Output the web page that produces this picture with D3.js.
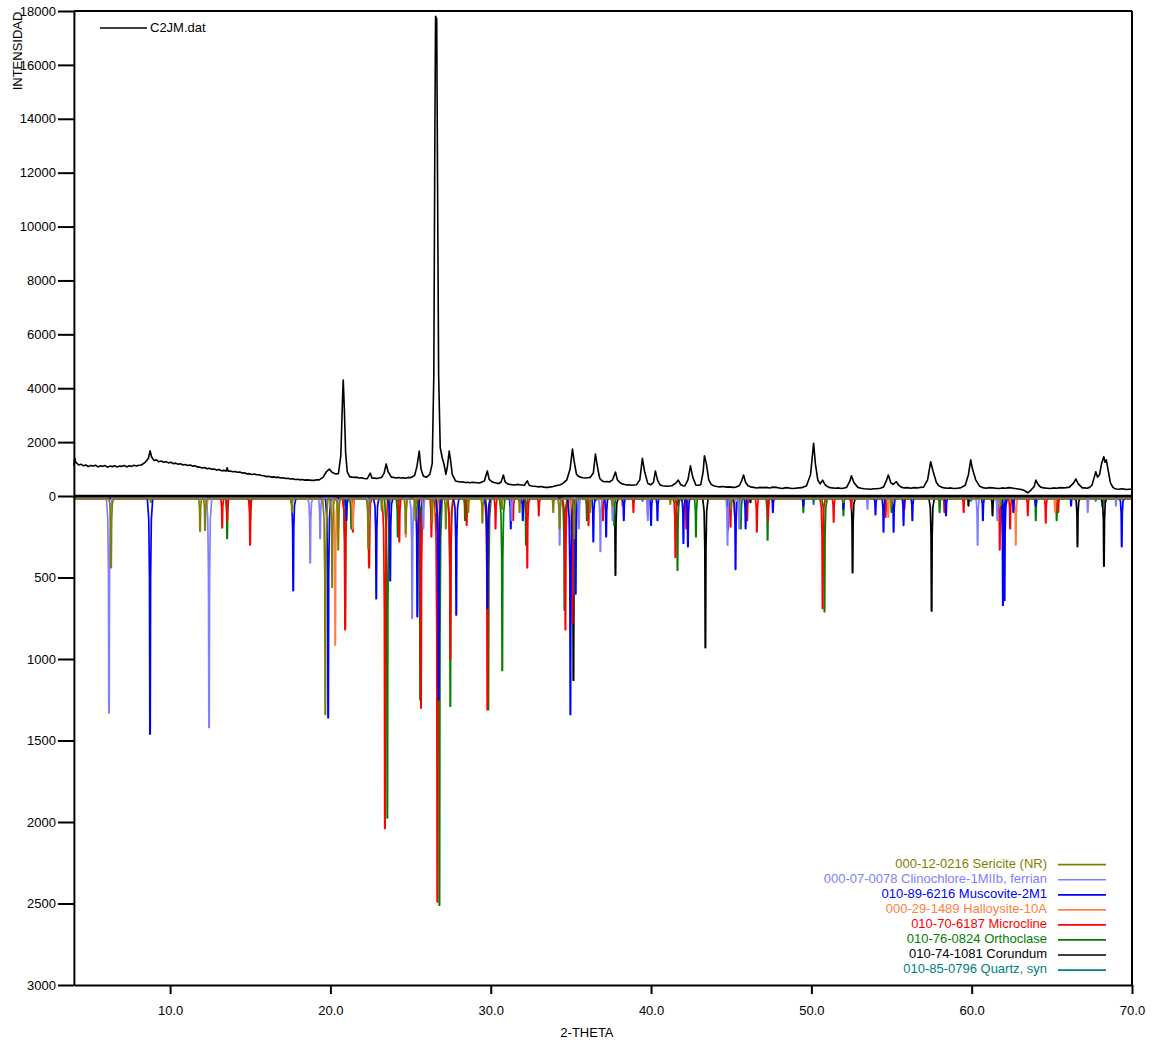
<!DOCTYPE html>
<html>
<head>
<meta charset="utf-8">
<script src="https://cdn.jsdelivr.net/npm/d3@7"></script>
<style>
  html, body { margin: 0; padding: 0; background: #fff; }
  svg { display: block; font-family: "Liberation Sans", Arial, sans-serif; }
</style>
</head>
<body>
<svg id="chart" width="1160" height="1045"></svg>
<script>
// ---------------- DATA ----------------
const xTickValues = [10, 20, 30, 40, 50, 60, 70];
const upperTickValues = [0, 2000, 4000, 6000, 8000, 10000, 12000, 14000, 16000, 18000];
const lowerTickValues = [500, 1000, 1500, 2000, 2500, 3000];

const observedName = "C2JM.dat";
// measured pattern [2-theta, intensity]
const observed = [
[4.0,1110],[4.05,1400],[4.12,1250],[4.3,1150],[4.45,1180],[4.6,1120],[4.75,1150],[4.9,1090],[5.05,1130],[5.2,1110],[5.35,1140],[5.5,1080],[5.65,1120],[5.8,1100],[5.95,1130],[6.1,1070],[6.25,1110],[6.4,1090],[6.55,1120],[6.7,1080],[6.85,1110],[7.0,1100],[7.15,1130],[7.3,1080],[7.45,1120],[7.6,1100],[7.75,1140],[7.9,1110],[8.05,1140],[8.2,1150],[8.45,1250],[8.65,1400],[8.75,1680],[8.85,1450],[9.0,1320],[9.15,1340],[9.3,1270],[9.45,1300],[9.6,1250],[9.75,1270],[9.9,1230],[10.05,1250],[10.2,1200],[10.35,1220],[10.5,1180],[10.65,1200],[10.8,1150],[10.95,1170],[11.1,1130],[11.25,1150],[11.4,1110],[11.55,1120],[11.7,1080],[11.85,1070],[12.0,1040],[12.15,1060],[12.3,1010],[12.45,1030],[12.6,990],[12.75,1000],[12.9,960],[13.05,980],[13.2,940],[13.35,950],[13.5,930],[13.56,1050],[13.62,920],[13.75,930],[13.9,900],[14.05,910],[14.2,880],[14.35,890],[14.5,850],[14.65,860],[14.8,820],[14.95,830],[15.1,800],[15.25,820],[15.4,790],[15.55,790],[15.7,760],[15.85,750],[16.0,720],[16.15,730],[16.3,700],[16.45,710],[16.6,690],[16.75,700],[16.9,670],[17.05,680],[17.2,650],[17.35,660],[17.5,630],[17.65,640],[17.8,610],[17.95,620],[18.1,600],[18.25,610],[18.4,590],[18.55,600],[18.7,590],[18.85,580],[19.0,580],[19.15,600],[19.3,600],[19.55,700],[19.75,900],[19.93,1000],[20.1,880],[20.3,820],[20.5,830],[20.65,1500],[20.75,3500],[20.8,4300],[20.87,3200],[20.95,1600],[21.05,900],[21.2,720],[21.35,700],[21.5,690],[21.65,700],[21.8,670],[21.95,680],[22.1,650],[22.3,640],[22.48,850],[22.6,660],[22.75,670],[22.9,650],[23.05,670],[23.2,700],[23.35,850],[23.48,1190],[23.6,900],[23.8,700],[23.95,690],[24.1,670],[24.25,690],[24.4,670],[24.55,680],[24.7,660],[24.85,690],[25.0,680],[25.25,760],[25.4,1100],[25.54,1670],[25.65,1000],[25.8,730],[26.0,700],[26.2,800],[26.35,1200],[26.45,4500],[26.52,14000],[26.56,17800],[26.63,17700],[26.68,12000],[26.75,4500],[26.85,1800],[26.98,1400],[27.1,1150],[27.2,800],[27.3,1100],[27.41,1670],[27.5,1300],[27.6,800],[27.8,560],[27.95,540],[28.1,520],[28.25,530],[28.4,500],[28.55,510],[28.7,490],[28.85,510],[29.0,500],[29.15,490],[29.3,480],[29.6,560],[29.79,930],[29.9,620],[30.05,540],[30.2,500],[30.35,480],[30.5,460],[30.65,520],[30.79,780],[30.9,520],[31.05,450],[31.2,430],[31.35,420],[31.5,410],[31.65,430],[31.8,420],[31.95,410],[32.1,400],[32.28,560],[32.4,400],[32.55,370],[32.7,360],[32.85,350],[33.0,340],[33.15,350],[33.3,330],[33.45,320],[33.6,320],[33.75,340],[33.9,350],[34.05,380],[34.2,400],[34.35,420],[34.5,470],[34.75,600],[34.95,1000],[35.1,1740],[35.2,1300],[35.35,800],[35.5,720],[35.6,700],[35.75,680],[35.9,670],[36.05,680],[36.2,690],[36.4,850],[36.53,1560],[36.65,1100],[36.8,650],[36.95,560],[37.1,530],[37.25,540],[37.4,520],[37.6,600],[37.78,890],[37.9,600],[38.05,500],[38.2,450],[38.35,430],[38.5,410],[38.65,420],[38.8,400],[38.95,410],[39.1,420],[39.3,600],[39.46,1400],[39.6,900],[39.8,460],[40.0,420],[40.15,500],[40.27,930],[40.4,600],[40.55,420],[40.7,380],[40.85,370],[41.0,360],[41.15,370],[41.3,380],[41.55,480],[41.7,590],[41.85,420],[42.0,380],[42.1,370],[42.3,600],[42.46,1120],[42.6,700],[42.8,400],[42.95,400],[43.1,420],[43.25,900],[43.33,1490],[43.45,1200],[43.6,600],[43.75,430],[43.9,380],[44.1,350],[44.3,340],[44.5,350],[44.7,330],[44.9,340],[45.1,320],[45.3,330],[45.5,380],[45.65,560],[45.77,780],[45.9,500],[46.05,380],[46.2,340],[46.4,320],[46.6,300],[46.8,320],[47.0,310],[47.2,320],[47.4,300],[47.6,330],[47.8,320],[48.0,300],[48.2,280],[48.4,310],[48.6,300],[48.8,280],[49.0,290],[49.2,300],[49.4,310],[49.7,380],[49.95,800],[50.05,1400],[50.14,1960],[50.25,1200],[50.4,600],[50.55,450],[50.7,590],[50.85,420],[51.0,350],[51.1,320],[51.3,300],[51.5,290],[51.7,300],[51.9,280],[52.05,300],[52.2,320],[52.4,550],[52.5,750],[52.65,500],[52.9,320],[53.1,290],[53.3,270],[53.5,260],[53.7,250],[53.9,270],[54.1,270],[54.3,290],[54.5,330],[54.7,600],[54.8,780],[54.95,500],[55.1,430],[55.3,530],[55.45,400],[55.6,330],[55.8,300],[56.0,310],[56.2,290],[56.4,310],[56.6,300],[56.8,320],[57.0,330],[57.25,600],[57.44,1270],[57.6,900],[57.8,500],[57.95,380],[58.1,330],[58.3,300],[58.5,290],[58.7,300],[58.9,280],[59.1,290],[59.3,300],[59.6,400],[59.8,800],[59.94,1340],[60.05,1000],[60.25,600],[60.5,360],[60.7,310],[60.9,290],[61.1,310],[61.3,300],[61.5,290],[61.7,280],[61.9,300],[62.1,290],[62.3,310],[62.5,300],[62.7,280],[62.9,260],[63.1,240],[63.3,200],[63.5,120],[63.7,220],[63.9,350],[64.0,590],[64.15,420],[64.3,330],[64.5,300],[64.7,290],[64.9,280],[65.1,300],[65.3,290],[65.5,310],[65.7,300],[65.9,310],[66.1,330],[66.35,480],[66.5,630],[66.65,450],[66.9,300],[67.05,300],[67.2,290],[67.35,320],[67.5,400],[67.65,700],[67.74,900],[67.85,700],[67.98,800],[68.1,1200],[68.24,1460],[68.32,1250],[68.4,1340],[68.5,1000],[68.65,500],[68.8,330],[68.9,280],[69.05,260],[69.2,250],[69.35,270],[69.5,260],[69.65,240],[69.8,250],[70.0,250]
];

const phaseNames = [
  "000-12-0216 Sericite (NR)",
  "000-07-0078 Clinochlore-1MIIb, ferrian",
  "010-89-6216 Muscovite-2M1",
  "000-29-1489 Halloysite-10A",
  "010-70-6187 Microcline",
  "010-76-0824 Orthoclase",
  "010-74-1081 Corundum",
  "010-85-0796 Quartz, syn"
];
const phaseColors = ["#808000", "#8080ff", "#0000ff", "#ff8040", "#ff0000", "#008000", "#000000", "#008080"];

// reference peaks [2-theta, intensity] for each phase
const sericitePeaks = [[6.32,440],[8.8,40],[11.87,215],[12.18,210],[17.6,100],[19.68,1340],[20.11,560],[20.49,330],[22.36,320],[23.2,90],[24.7,230],[25.3,150],[26.35,165],[27.2,200],[28.6,100],[29.48,165],[30.7,80],[31.8,100],[33.9,100],[34.3,200],[35.2,260],[36.2,100],[37.6,60],[41.2,50],[45.0,80],[52.0,40],[55.0,60],[61.8,60]];
const clinochlorePeaks = [[6.19,1330],[12.43,1420],[18.74,410],[19.36,260],[20.5,200],[22.4,150],[25.1,750],[25.8,200],[31.3,150],[34.3,300],[35.5,200],[36.84,340],[37.6,150],[39.8,150],[44.77,300],[45.5,200],[53.5,80],[60.37,300],[61.6,150],[67.24,100],[69.0,60]];
const muscovitePeaks = [[8.75,1460],[17.68,580],[19.86,1360],[21.0,150],[22.86,630],[23.73,520],[25.42,740],[26.75,1250],[27.85,730],[29.79,690],[31.25,200],[32.0,150],[34.97,1340],[35.3,600],[36.4,280],[37.2,250],[38.3,150],[40.0,180],[40.4,150],[42.02,290],[42.3,310],[44.8,210],[45.27,450],[45.9,200],[47.6,100],[49.5,60],[52.0,80],[54.0,115],[54.5,220],[55.13,220],[55.75,180],[56.3,150],[58.4,120],[60.7,150],[61.95,670],[62.05,640],[62.6,100],[64.0,60],[66.2,60],[69.36,310]];
const halloysitePeaks = [[12.3,80],[20.3,915],[21.4,200],[24.7,250],[26.6,100],[35.0,200],[38.2,60],[45.2,100],[54.8,130],[62.75,300],[65.2,100]];
const microclinePeaks = [[13.25,195],[13.56,150],[14.99,300],[20.92,820],[21.4,220],[22.42,440],[23.4,2040],[24.3,280],[25.65,1300],[26.3,250],[26.67,2490],[27.48,1000],[28.5,180],[29.79,1310],[30.3,200],[31.4,150],[32.28,440],[33.0,120],[34.66,820],[35.1,780],[36.1,180],[37.0,150],[38.9,100],[39.8,120],[41.52,375],[42.2,200],[44.96,190],[46.0,150],[46.6,220],[47.3,150],[50.7,690],[51.39,160],[52.5,80],[54.63,130],[55.8,80],[58.3,100],[59.5,100],[61.75,330],[62.4,200],[63.5,120],[64.62,165],[65.4,100]];
const orthoclasePeaks = [[13.56,260],[15.0,150],[20.92,800],[21.3,200],[22.4,430],[23.55,1975],[24.2,250],[25.6,1250],[26.8,2510],[27.48,1290],[28.4,150],[29.85,1310],[30.72,1070],[32.2,300],[34.6,700],[35.2,600],[36.0,150],[37.7,180],[41.65,455],[42.8,250],[45.6,200],[47.27,270],[49.5,100],[50.82,710],[52.0,120],[55.0,100],[58.0,100],[61.9,120],[64.0,150],[65.3,150]];
const corundumPeaks = [[25.58,700],[35.16,1130],[37.78,485],[41.7,60],[43.39,930],[46.2,40],[52.57,470],[57.5,705],[59.8,60],[61.3,120],[66.6,310],[68.25,430]];
const quartzPeaks = [[20.86,60],[26.64,200],[36.54,30],[39.47,30],[50.14,50],[59.96,30],[67.74,30],[68.14,65],[68.3,40]];

const phasePeaks = [sericitePeaks, clinochlorePeaks, muscovitePeaks, halloysitePeaks, microclinePeaks, orthoclasePeaks, corundumPeaks, quartzPeaks];

// ---------------- LAYOUT ----------------
const svg = d3.select("#chart");
const plotLeft = 73.9, plotRight = 1132, plotTop = 11, zeroY = 496, plotBottom = 985;
const fontSize = "13px";

const x = d3.scaleLinear().domain([4, 70]).range([plotLeft, plotRight]);
const yUp = d3.scaleLinear().domain([0, 18000]).range([zeroY, plotTop]);
const yDown = d3.scaleLinear().domain([0, 3000]).range([zeroY, plotBottom]);

// ---------------- PHASE PROFILES (lower panel) ----------------
const base = 14;
function profilePoints(peaks) {
  const sorted = peaks.slice().sort((a, b) => a[0] - b[0]);
  const pts = [[4, base]];
  sorted.forEach(([p, v]) => {
    pts.push([p - 0.17, base]);
    pts.push([p - 0.08, Math.max(base, v * 0.1)]);
    pts.push([p - 0.035, Math.max(base, v * 0.35)]);
    pts.push([p - 0.012, v]);
    pts.push([p + 0.012, v]);
    pts.push([p + 0.035, Math.max(base, v * 0.35)]);
    pts.push([p + 0.08, Math.max(base, v * 0.1)]);
    pts.push([p + 0.17, base]);
  });
  pts.push([70, base]);
  return pts;
}
const lowerLine = d3.line().x(d => x(d[0])).y(d => yDown(d[1]));
for (let i = phasePeaks.length - 1; i >= 0; i--) {
  svg.append("path")
    .attr("d", lowerLine(profilePoints(phasePeaks[i])))
    .attr("fill", "none")
    .attr("stroke", phaseColors[i])
    .attr("stroke-width", 1.7)
    .attr("stroke-linejoin", "round");
}

// ---------------- OBSERVED PATTERN (upper panel) ----------------
const upperLine = d3.line().x(d => x(d[0])).y(d => yUp(d[1]));
svg.append("path")
  .attr("d", upperLine(observed))
  .attr("fill", "none")
  .attr("stroke", "#000")
  .attr("stroke-width", 1.6)
  .attr("stroke-linejoin", "round");

// ---------------- AXES ----------------
const axisStyle = g => {
  g.selectAll("path.domain").attr("stroke", "#000").attr("stroke-width", 2);
  g.selectAll(".tick line").attr("stroke", "#000").attr("stroke-width", 2);
  g.selectAll(".tick text").attr("fill", "#000").style("font-size", fontSize).style("font-family", "'Liberation Sans', Arial, sans-serif");
};

svg.append("g").attr("transform", `translate(${plotLeft},0)`)
  .call(d3.axisLeft(yUp).tickValues(upperTickValues).tickSize(16).tickPadding(2).tickSizeOuter(0).tickFormat(d3.format("d")))
  .call(axisStyle);
svg.append("g").attr("transform", `translate(${plotLeft},0)`)
  .call(d3.axisLeft(yDown).tickValues(lowerTickValues).tickSize(16).tickPadding(2).tickSizeOuter(0).tickFormat(d3.format("d")))
  .call(axisStyle);
svg.append("g").attr("transform", `translate(0,${plotBottom})`)
  .call(d3.axisBottom(x).tickValues(xTickValues).tickSize(9).tickPadding(12).tickSizeOuter(0).tickFormat(d3.format(".1f")))
  .call(axisStyle);

// frame top / right and zero line
svg.append("line").attr("x1", plotLeft).attr("x2", plotRight).attr("y1", plotTop).attr("y2", plotTop).attr("stroke", "#000").attr("stroke-width", 2);
svg.append("line").attr("x1", plotRight).attr("x2", plotRight).attr("y1", plotTop).attr("y2", plotBottom).attr("stroke", "#000").attr("stroke-width", 2);
svg.append("line").attr("x1", plotLeft).attr("x2", plotRight).attr("y1", yUp(0)).attr("y2", yUp(0)).attr("stroke", "#000").attr("stroke-width", 2.4);

// axis titles
svg.append("text").attr("transform", "translate(22,51) rotate(-90)")
  .attr("text-anchor", "middle").style("font-size", fontSize).text("INTENSIDAD");
svg.append("text").attr("x", (plotLeft + plotRight) / 2 - 16).attr("y", 1037)
  .attr("text-anchor", "middle").style("font-size", fontSize).text("2-THETA");

// observed legend
svg.append("line").attr("x1", 100).attr("x2", 147).attr("y1", 28).attr("y2", 28).attr("stroke", "#000").attr("stroke-width", 1.6);
svg.append("text").attr("x", 150).attr("y", 31.5).style("font-size", fontSize).text(observedName);

// phase legend
phaseNames.forEach((name, i) => {
  const yy = 863.5 + i * 15.05;
  svg.append("text").attr("x", 1047).attr("y", yy + 4.6).attr("text-anchor", "end")
    .attr("fill", phaseColors[i]).style("font-size", fontSize).text(name);
  svg.append("line").attr("x1", 1058).attr("x2", 1106).attr("y1", yy + 1.2).attr("y2", yy + 1.2)
    .attr("stroke", phaseColors[i]).attr("stroke-width", 1.7);
});
</script>
</body>
</html>
